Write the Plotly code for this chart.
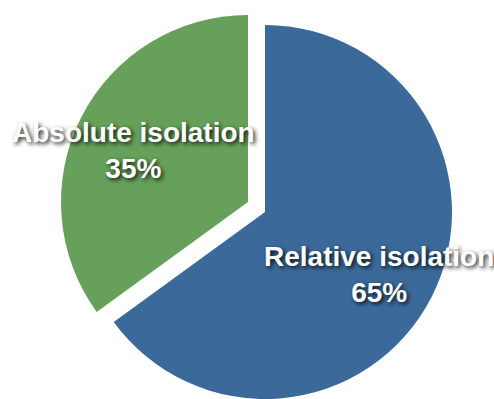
import plotly.graph_objects as go

labels = ["Relative isolation", "Absolute isolation"]
values = [65, 35]
colors = ["#3B6A9A", "#66A05A"]

W, H = 494, 399
R = 187
# slice centres (px): blue unpulled, green pulled out toward upper-left
centers = [(265, 212), (248, 202)]

def dom(cx, cy):
    return dict(x=[(cx - R) / W, (cx + R) / W],
                y=[(H - (cy + R)) / H, (H - (cy - R)) / H])

fig = go.Figure()
for i, (cx, cy) in enumerate(centers):
    cols = ["rgba(0,0,0,0)"] * len(values)
    cols[i] = colors[i]
    fig.add_trace(go.Pie(
        labels=labels, values=values, sort=False, direction="clockwise",
        rotation=0, marker=dict(colors=cols, line=dict(width=0)),
        textinfo="none", hoverinfo="skip", showlegend=False,
        domain=dom(cx, cy),
    ))

label_pos = [(378.5 / W, 1 - 274 / H), (133.5 / W, 1 - 150 / H)]
for lab, val, (x, y) in zip(labels, values, label_pos):
    fig.add_annotation(
        x=x, y=y, xref="paper", yref="paper", showarrow=False,
        xanchor="center", yanchor="middle",
        text=f"{lab}<br>{val}%", align="center",
        font=dict(family="Liberation Sans, Arial, sans-serif", size=28,
                  color="white", weight="bold",
                  shadow="2px 2px 4px rgba(0,0,0,0.85)"),
    )

fig.update_layout(width=W, height=H, margin=dict(l=0, r=0, t=0, b=0),
                  paper_bgcolor="white", plot_bgcolor="white")
fig.write_html("out.html")
